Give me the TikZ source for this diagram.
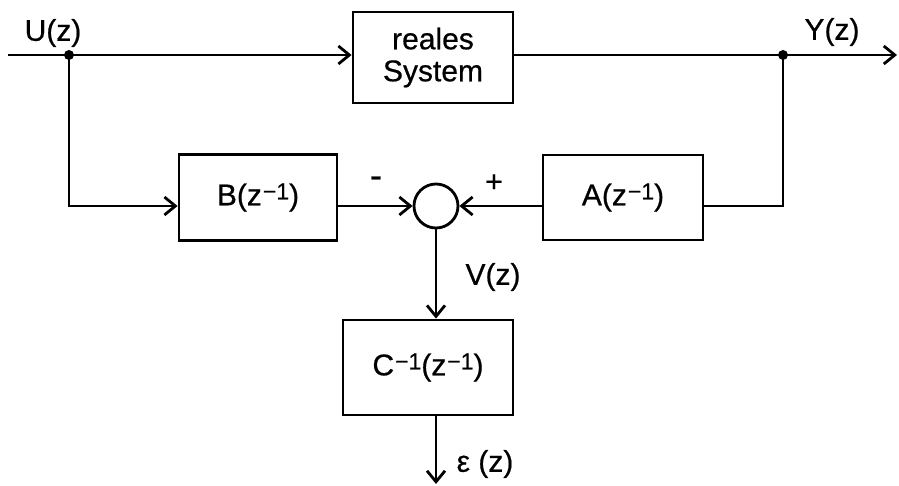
\documentclass[tikz,border=0pt]{standalone}
\usepackage{fontspec}
\setmainfont{Liberation Sans}[FakeBold=0.6]
\usetikzlibrary{arrows.meta}
\newcommand\mysup[1]{\kern1pt\raisebox{6pt}{\fontsize{23}{23}\selectfont #1}}
\begin{document}
\begin{tikzpicture}[x=1pt,y=-1pt,line width=2.8pt,
  blk/.style={draw,rectangle,inner sep=0pt,align=center,font=\fontsize{30}{32}\selectfont},
  lbl/.style={inner sep=0pt,font=\fontsize{30}{32}\selectfont},
  tip/.style={-{Straight Barb[length=11pt,width=18pt]}},
  jdot/.style={circle,fill,inner sep=0pt,minimum size=10pt}]
\useasboundingbox (0,0) rectangle (899,486);
% blocks
\node[blk,minimum width=160pt,minimum height=91pt] (sys) at (433,57.5) {reales\\System};
\node[blk,minimum width=158pt,minimum height=86pt] (B) at (258,197.5) {B(z\mysup{−1})};
\node[blk,minimum width=160pt,minimum height=85pt] (A) at (623,197.5) {A(z\mysup{−1})};
\node[blk,minimum width=170pt,minimum height=95pt] (C) at (428,367.5) {C\mysup{−1}(z\mysup{−1})};
\node[draw,circle,inner sep=0pt,minimum size=44pt] (sum) at (436,206) {};
% junctions and ends
\node[jdot] (uj) at (69,55) {};
\node[jdot] (yj) at (783,55) {};
\coordinate (in) at (8,55);
\coordinate (out) at (897,55);
\coordinate (eend) at (436,484);
% labels
\node[lbl] (ulab) at (53,33) {U(z)};
\node[lbl] (ylab) at (832,32) {Y(z)};
\node[lbl,font=\fontsize{36}{36}\selectfont] (minus) at (376,182) {-};
\node[lbl] (plus) at (494,183) {+};
\node[lbl] (vlab) at (493,277) {V(z)};
\node[lbl] (elab) at (485,464) {ε (z)};
% connectors
\draw[tip] (in) -- (uj.center) -- (sys.west |- uj);
\draw[tip] (sys.east |- yj) -- (yj.center) -- (out);
\draw[tip] (uj.center) -- (uj |- sum) -- (B.west |- sum);
\draw[tip] (B.east |- sum) -- (sum.west);
\draw (yj.center) -- (yj |- sum) -- (A.east |- sum);
\draw[tip] (A.west |- sum) -- (sum.east);
\draw[tip] (sum.south) -- (sum |- C.north);
\draw[tip] (sum |- C.south) -- (eend);
\end{tikzpicture}
\end{document}
